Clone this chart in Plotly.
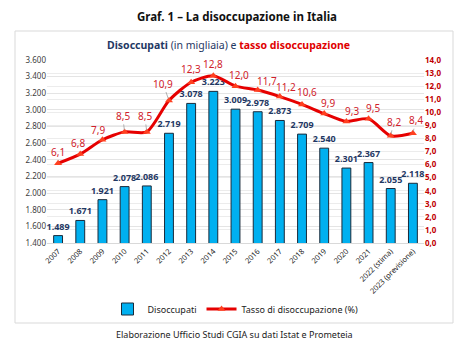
import plotly.graph_objects as go

years = ["2007", "2008", "2009", "2010", "2011", "2012", "2013", "2014", "2015",
         "2016", "2017", "2018", "2019", "2020", "2021", "2022 (stima)", "2023 (previsione)"]
disoccupati = [1489, 1671, 1921, 2078, 2086, 2719, 3078, 3223, 3009,
               2978, 2873, 2709, 2540, 2301, 2367, 2055, 2118]
tasso = [6.1, 6.8, 7.9, 8.5, 8.5, 10.9, 12.3, 12.8, 12.0,
         11.7, 11.2, 10.6, 9.9, 9.3, 9.5, 8.2, 8.4]

# label offsets (pixels) for the rate labels, and whether a leader line is drawn
lab_dx = [0, -2, -4, -2, -2, -6, 0, 0, 3, 9, 6, 5, 4, 6, 4, 3, 3]
lab_dy = [-11, -11, -10, -16, -16, -17, -13, -12, -11, -9, -10, -12, -11, -10, -11, -14, -13]
leader = [True, False, False, True, True, True, False, False, False, False, False, False, False, False, False, True, True]

W, H = 474, 346
ML, MR, MT, MB = 47, 50, 60, 103
PW, PH = W - ML - MR, H - MT - MB

def px_x(p):
    return (p - ML) / PW

def px_y(p):
    return (H - MB - p) / PH

FONT = "Noto Sans"
NAVY = "#1F3864"
RED = "#C00000"

def it_num(v):
    return f"{v:,}".replace(",", ".")

def it_dec(v):
    return f"{v:.1f}".replace(".", ",")

fig = go.Figure()
fig.add_trace(go.Bar(
    x=years, y=disoccupati, name="Disoccupati",
    marker=dict(color="#00B0F0", line=dict(color="#1a2a3a", width=1)),
    width=0.4,
    text=[it_num(v) for v in disoccupati], textposition="outside",
    constraintext="none",
    textfont=dict(family=FONT, size=9, color=NAVY, weight="bold"),
    cliponaxis=False,
))
fig.add_trace(go.Scatter(
    x=years, y=tasso, name="Tasso di disoccupazione (%)", yaxis="y2",
    mode="lines+markers",
    line=dict(color="#E60000", width=3, shape="spline", smoothing=0.7),
    marker=dict(symbol="triangle-up", size=7, color="#FF4020"),
    cliponaxis=False,
))

annotations = []
for i, v in enumerate(tasso):
    annotations.append(dict(
        x=i, y=v, xref="x", yref="y2", text=it_dec(v),
        showarrow=leader[i], arrowhead=0, arrowwidth=0.8, arrowcolor="#a0a0a0",
        ax=lab_dx[i], ay=lab_dy[i], standoff=2,
        xshift=0 if leader[i] else lab_dx[i], yshift=0 if leader[i] else -lab_dy[i],
        font=dict(family=FONT, size=10, color="#D0202A"),
    ))

annotations += [
    dict(xref="paper", yref="paper", x=px_x(237), y=px_y(17), text="<b>Graf. 1 – La disoccupazione in Italia</b>",
         showarrow=False, font=dict(family=FONT, size=11.5, color="#111111"), xanchor="center", yanchor="middle"),
    dict(xref="paper", yref="paper", x=px_x(228), y=px_y(45),
         text="<b>Disoccupati</b> (in migliaia) e <b><span style='color:#E00000'>tasso disoccupazione</span></b>",
         showarrow=False, font=dict(family=FONT, size=10.5, color=NAVY), xanchor="center", yanchor="middle"),
    dict(xref="paper", yref="paper", x=px_x(234), y=px_y(334),
         text="Elaborazione Ufficio Studi CGIA su dati Istat e Prometeia",
         showarrow=False, font=dict(family=FONT, size=9, color="#222222"), xanchor="center", yanchor="middle"),
]

fig.update_layout(
    width=W, height=H,
    margin=dict(l=ML, r=MR, t=MT, b=MB),
    paper_bgcolor="white", plot_bgcolor="white",
    separators=",.",
    font=dict(family=FONT, size=8, color="#404040"),
    showlegend=True,
    legend=dict(orientation="h", x=0.5, xanchor="center", y=px_y(309), yanchor="middle",
                font=dict(family=FONT, size=9, color="#222222"), itemwidth=30, bgcolor="rgba(0,0,0,0)"),
    xaxis=dict(type="category", tickangle=-45, tickfont=dict(family=FONT, size=7.5, color="#222222"),
               showline=True, linecolor="#d9d9d9", ticks="", showgrid=False, range=[-0.5, 16.5]),
    yaxis=dict(range=[1400, 3600], dtick=200, tickformat=",d", showgrid=True, gridcolor="#e4e4e4",
               tickfont=dict(family=FONT, size=8, color="#404040"), zeroline=False, ticks=""),
    yaxis2=dict(range=[0, 14], dtick=1, tickformat=".1f", overlaying="y", side="right",
                showgrid=True, gridcolor="#ececec", zeroline=False,
                tickfont=dict(family=FONT, size=8, color=RED, weight="bold"), ticks=""),
    annotations=annotations,
    shapes=[dict(type="rect", xref="paper", yref="paper",
                 x0=px_x(15), x1=px_x(453), y0=px_y(323), y1=px_y(31),
                 line=dict(color="#d9d9d9", width=1), layer="below")],
)

fig.write_html("out.html")
